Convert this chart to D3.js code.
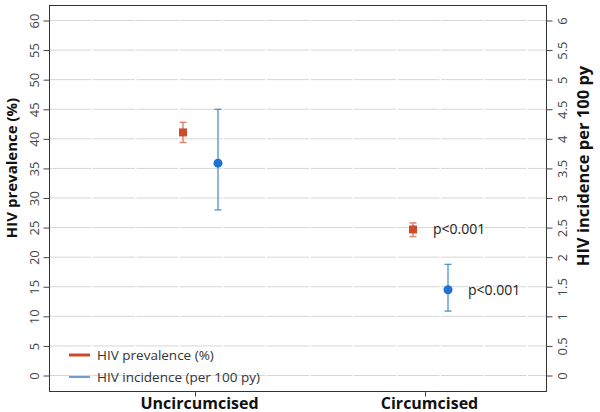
<!DOCTYPE html>
<html>
<head>
<meta charset="utf-8">
<script src="https://d3js.org/d3.v7.min.js"></script>
<style>
  body { margin: 0; background: #fff; }
  svg text { font-family: "Open Sans", "DejaVu Sans", sans-serif; }
</style>
</head>
<body>
<div id="chart"></div>
<script>
// categories and values
var categories = ["Uncircumcised", "Circumcised"];
var prevalence = [41, 24.6];          // HIV prevalence (%)
var prevalenceLo = [39.3, 23.4];
var prevalenceHi = [42.7, 25.7];
var incidence = [3.58, 1.44];         // HIV incidence per 100 py
var incidenceLo = [2.79, 1.08];
var incidenceHi = [4.49, 1.87];
var pLabels = ["", "p<0.001"];
var leftTicks = [0, 5, 10, 15, 20, 25, 30, 35, 40, 45, 50, 55, 60];
var rightTicks = [0, 0.5, 1, 1.5, 2, 2.5, 3, 3.5, 4, 4.5, 5, 5.5, 6];
var legendLabels = ["HIV prevalence (%)", "HIV incidence (per 100 py)"];

var width = 600, height = 412;
var frame = { left: 49.5, right: 546.5, top: 5.5, bottom: 391.5 };
var red = "#cf4a2c", redBar = "#d98877", blue = "#1f72d3", blueBar = "#4f93c9";
var tickColor = "#444";

var svg = d3.select("#chart").append("svg")
    .attr("width", width).attr("height", height);

var yL = d3.scaleLinear().domain([0, 60]).range([375, 20]);
var yR = d3.scaleLinear().domain([0, 6]).range([375, 20]);
var x = d3.scalePoint().domain(categories).range([195, 425]);

// gridlines
svg.append("g").selectAll("line").data(leftTicks).enter().append("line")
    .attr("x1", frame.left).attr("x2", frame.right)
    .attr("y1", function (d) { return yL(d) + 0.5; })
    .attr("y2", function (d) { return yL(d) + 0.5; })
    .attr("stroke", "#d6d6d6").attr("stroke-width", 1)
    .attr("stroke-dasharray", "42,1.5");

// frame
svg.append("rect")
    .attr("x", frame.left).attr("y", frame.top)
    .attr("width", frame.right - frame.left).attr("height", frame.bottom - frame.top)
    .attr("fill", "none").attr("stroke", "#333").attr("stroke-width", 1);

// left axis
var leftAxis = svg.append("g").attr("transform", "translate(" + frame.left + ",0.5)")
    .call(d3.axisLeft(yL).tickValues(leftTicks).tickSize(6).tickSizeOuter(0));
leftAxis.select(".domain").remove();
leftAxis.selectAll("line").attr("stroke", tickColor);
leftAxis.selectAll("text")
    .attr("transform", "translate(-15,0) rotate(-90)")
    .attr("x", 0).attr("dy", "0.35em").attr("text-anchor", "middle")
    .attr("fill", tickColor).style("font-size", "13px");

// right axis
var rightAxis = svg.append("g").attr("transform", "translate(" + frame.right + ",0.5)")
    .call(d3.axisRight(yR).tickValues(rightTicks).tickSize(6).tickSizeOuter(0)
        .tickFormat(function (d) { return d3.format("~g")(d); }));
rightAxis.select(".domain").remove();
rightAxis.selectAll("line").attr("stroke", tickColor);
rightAxis.selectAll("text")
    .attr("transform", "translate(16,0) rotate(-90)")
    .attr("x", 0).attr("dy", "0.35em").attr("text-anchor", "middle")
    .attr("fill", tickColor).style("font-size", "13px");

// bottom axis
var bottomAxis = svg.append("g").attr("transform", "translate(0," + frame.bottom + ")")
    .call(d3.axisBottom(x).tickSize(5).tickSizeOuter(0));
bottomAxis.select(".domain").remove();
bottomAxis.selectAll("line").attr("stroke", tickColor);
bottomAxis.selectAll("text")
    .attr("y", 17).attr("dy", 0).attr("dx", 4)
    .attr("fill", "#111").style("font-size", "16px").style("font-weight", "bold");

// axis titles
svg.append("text")
    .attr("transform", "translate(17,168) rotate(-90)")
    .attr("text-anchor", "middle").attr("fill", "#111")
    .style("font-size", "15px").style("font-weight", "bold")
    .text("HIV prevalence (%)");
svg.append("text")
    .attr("transform", "translate(589,166) rotate(-90)")
    .attr("text-anchor", "middle").attr("fill", "#111")
    .style("font-size", "16.5px").style("font-weight", "bold")
    .text("HIV incidence per 100 py");

// prevalence series
var redOff = -12, blueOff = 23;
var prev = svg.append("g").selectAll("g").data(categories).enter().append("g");
prev.append("line")
    .attr("x1", function (d) { return x(d) + redOff; }).attr("x2", function (d) { return x(d) + redOff; })
    .attr("y1", function (d, i) { return yL(prevalenceLo[i]); })
    .attr("y2", function (d, i) { return yL(prevalenceHi[i]); })
    .attr("stroke", redBar).attr("stroke-width", 1.5);
[prevalenceLo, prevalenceHi].forEach(function (arr) {
    prev.append("line")
        .attr("x1", function (d) { return x(d) + redOff - 3.5; })
        .attr("x2", function (d) { return x(d) + redOff + 3.5; })
        .attr("y1", function (d, i) { return yL(arr[i]); })
        .attr("y2", function (d, i) { return yL(arr[i]); })
        .attr("stroke", redBar).attr("stroke-width", 1.5);
});
prev.append("rect")
    .attr("x", function (d) { return x(d) + redOff - 4; })
    .attr("y", function (d, i) { return yL(prevalence[i]) - 4; })
    .attr("width", 8).attr("height", 8)
    .attr("fill", red);

// incidence series
var inc = svg.append("g").selectAll("g").data(categories).enter().append("g");
inc.append("line")
    .attr("x1", function (d) { return x(d) + blueOff; }).attr("x2", function (d) { return x(d) + blueOff; })
    .attr("y1", function (d, i) { return yR(incidenceLo[i]); })
    .attr("y2", function (d, i) { return yR(incidenceHi[i]); })
    .attr("stroke", blueBar).attr("stroke-width", 1.3);
[incidenceLo, incidenceHi].forEach(function (arr) {
    inc.append("line")
        .attr("x1", function (d) { return x(d) + blueOff - 3.5; })
        .attr("x2", function (d) { return x(d) + blueOff + 3.5; })
        .attr("y1", function (d, i) { return yR(arr[i]); })
        .attr("y2", function (d, i) { return yR(arr[i]); })
        .attr("stroke", blueBar).attr("stroke-width", 1.3);
});
inc.append("circle")
    .attr("cx", function (d) { return x(d) + blueOff; })
    .attr("cy", function (d, i) { return yR(incidence[i]); })
    .attr("r", 4.5)
    .attr("fill", blue);

// p-value labels
svg.append("g").selectAll("text").data(categories).enter().append("text")
    .attr("x", function (d) { return x(d) + redOff + 20; })
    .attr("y", function (d, i) { return yL(prevalence[i]) + 5; })
    .attr("fill", "#222").style("font-size", "14px")
    .text(function (d, i) { return pLabels[i]; });
svg.append("g").selectAll("text").data(categories).enter().append("text")
    .attr("x", function (d) { return x(d) + blueOff + 20; })
    .attr("y", function (d, i) { return yR(incidence[i]) + 5; })
    .attr("fill", "#222").style("font-size", "14px")
    .text(function (d, i) { return pLabels[i]; });

// legend
var legendColors = [red, "#3d80bd"];
var legendWidths = [3, 1.5];
var legend = svg.append("g").selectAll("g").data(legendLabels).enter().append("g")
    .attr("transform", function (d, i) { return "translate(69," + (355 + i * 22) + ")"; });
legend.append("line")
    .attr("x1", 0).attr("x2", 21).attr("y1", 0).attr("y2", 0)
    .attr("stroke", function (d, i) { return legendColors[i]; })
    .attr("stroke-width", function (d, i) { return legendWidths[i]; });
legend.append("text")
    .attr("x", 28).attr("y", 0).attr("dy", "0.35em")
    .attr("fill", "#333").style("font-size", "13.5px")
    .text(function (d) { return d; });
</script>
</body>
</html>
